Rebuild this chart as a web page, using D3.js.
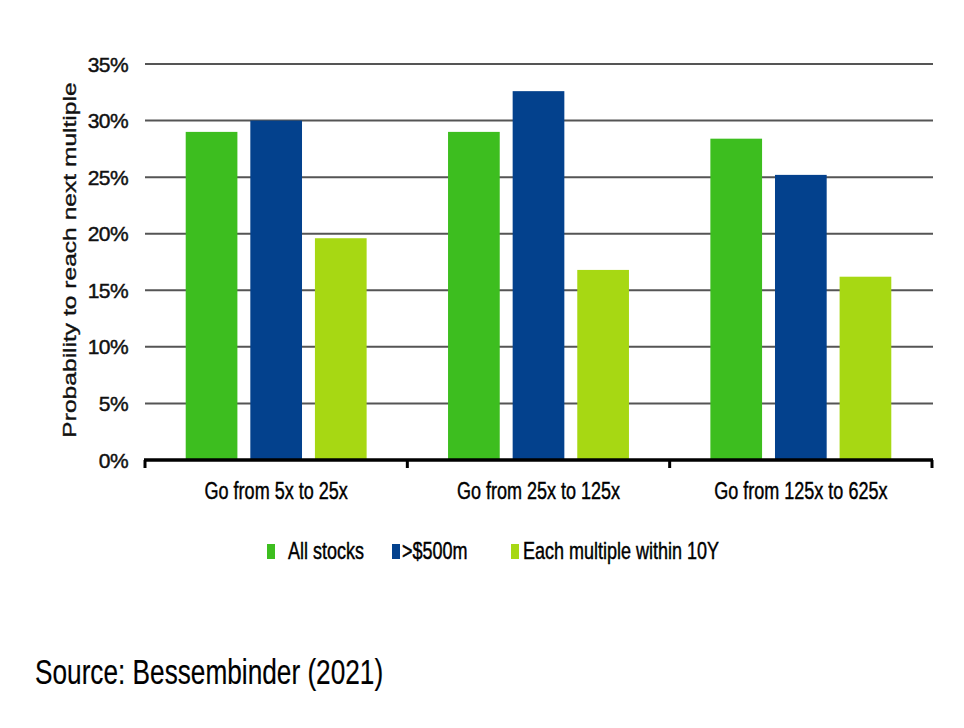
<!DOCTYPE html>
<html>
<head>
<meta charset="utf-8">
<script src="https://cdn.jsdelivr.net/npm/d3@7/dist/d3.min.js"></script>
<style>
  html, body { margin: 0; padding: 0; background: #fff; }
  svg { display: block; font-family: "Liberation Sans", Arial, sans-serif; }
  svg text { stroke: currentColor; stroke-width: 0.45px; paint-order: stroke; }
</style>
</head>
<body>
<svg id="chart" width="964" height="728"></svg>
<script>
// ---- Data ----
const categories = ["Go from 5x to 25x", "Go from 25x to 125x", "Go from 125x to 625x"];
const seriesNames = ["All stocks", ">$500m", "Each multiple within 10Y"];
const allStocks = [29.0, 29.0, 28.4];
const over500m = [30.0, 32.6, 25.2];
const eachMultipleWithin10Y = [19.6, 16.8, 16.2];
const yTickValues = [0, 5, 10, 15, 20, 25, 30, 35];
const yTickLabels = ["0%", "5%", "10%", "15%", "20%", "25%", "30%", "35%"];
const yAxisTitle = "Probability to reach next multiple";
const sourceText = "Source: Bessembinder (2021)";

// ---- Styles / layout ----
const colors = ["#3dbe1f", "#03418d", "#a7d813"];
const plot = { left: 145, right: 932, top: 64, bottom: 460 };
const legendMarkerX = [267, 392, 511];
const legendTextX = [288, 402, 523];

const seriesValues = [allStocks, over500m, eachMultipleWithin10Y];
const table = categories.map((c, i) => ({
  category: c,
  values: seriesNames.map((s, j) => ({ series: s, idx: j, value: seriesValues[j][i] }))
}));

const svg = d3.select("#chart");

const x0 = d3.scaleBand().domain(categories).range([plot.left, plot.right]).padding(0);
const x1 = d3.scaleBand().domain(seriesNames).range([0, x0.bandwidth()])
  .paddingInner(0.2).paddingOuter(0.63);
const y = d3.scaleLinear().domain([0, 35]).range([plot.bottom, plot.top]);

// Gridlines
svg.append("g").selectAll("line")
  .data(yTickValues.filter(v => v > 0))
  .join("line")
  .attr("x1", plot.left).attr("x2", plot.right + 1)
  .attr("y1", d => y(d)).attr("y2", d => y(d))
  .attr("stroke", "#555").attr("stroke-width", 2);

// Y tick labels
svg.append("g").selectAll("text")
  .data(yTickValues)
  .join("text")
  .attr("x", 128)
  .attr("y", d => y(d))
  .attr("dy", "0.36em")
  .attr("text-anchor", "end")
  .attr("font-size", 21)
  .attr("letter-spacing", -0.6)
  .style("color", "#111")
  .attr("fill", "#111")
  .text((d, i) => yTickLabels[i]);

// Bars
const groups = svg.append("g").selectAll("g")
  .data(table)
  .join("g")
  .attr("transform", d => `translate(${x0(d.category)},0)`);

groups.selectAll("rect")
  .data(d => d.values)
  .join("rect")
  .attr("x", d => x1(d.series))
  .attr("width", x1.bandwidth())
  .attr("y", d => y(d.value))
  .attr("height", d => y(0) - y(d.value))
  .attr("fill", d => colors[d.idx]);

// X axis baseline with ticks
const xAxis = d3.axisBottom(x0).tickSize(0).tickFormat("");
const axisG = svg.append("g").attr("transform", `translate(0,${plot.bottom})`).call(xAxis);
axisG.select(".domain").remove();
axisG.append("line")
  .attr("x1", plot.left - 1).attr("x2", plot.right + 1)
  .attr("y1", 0).attr("y2", 0)
  .attr("stroke", "#000").attr("stroke-width", 3.5);
const boundaries = categories.map(c => x0(c)).concat([x0(categories[categories.length - 1]) + x0.bandwidth()]);
axisG.selectAll("line.tk")
  .data(boundaries)
  .join("line")
  .attr("class", "tk")
  .attr("x1", d => d).attr("x2", d => d)
  .attr("y1", 0).attr("y2", 8)
  .attr("stroke", "#000").attr("stroke-width", 3);

// Category labels
svg.append("g").selectAll("text")
  .data(categories)
  .join("text")
  .attr("transform", d => `translate(${x0(d) + x0.bandwidth() / 2},499) scale(0.73,1)`)
  .attr("text-anchor", "middle")
  .attr("font-size", 24.7)
  .style("color", "#000")
  .attr("fill", "#000")
  .text(d => d);

// Y axis title
svg.append("text")
  .attr("transform", "translate(76,260) rotate(-90) scale(1,0.755)")
  .attr("text-anchor", "middle")
  .attr("font-size", 24.6)
  .style("color", "#111")
  .attr("fill", "#111")
  .text(yAxisTitle);

// Legend
const legend = svg.append("g").selectAll("g")
  .data(seriesNames)
  .join("g");
legend.append("rect")
  .attr("x", (d, i) => legendMarkerX[i])
  .attr("y", 544)
  .attr("width", 8)
  .attr("height", 15)
  .attr("fill", (d, i) => colors[i]);
legend.append("text")
  .attr("transform", (d, i) => `translate(${legendTextX[i]},559) scale(0.76,1)`)
  .attr("font-size", 23.7)
  .style("color", "#000")
  .attr("fill", "#000")
  .text(d => d);

// Source
svg.append("text")
  .attr("transform", "translate(35,684) scale(0.76,1)")
  .attr("font-size", 34.5)
  .style("color", "#000")
  .attr("fill", "#000")
  .style("stroke-width", "0.2px")
  .text(sourceText);
</script>
</body>
</html>
